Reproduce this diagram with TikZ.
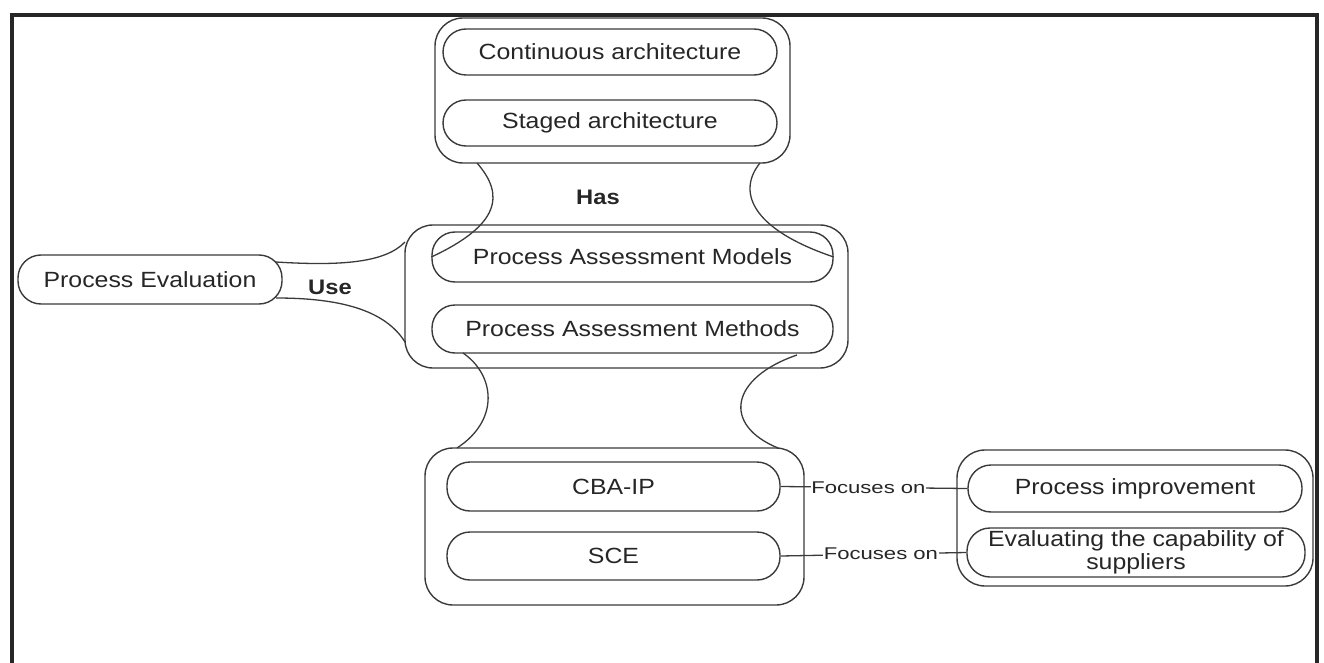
\documentclass[tikz,border=0pt]{standalone}
\usepackage{fontspec}
\setmainfont{Liberation Sans}[FakeStretch=1.13]
\newfontfamily\focfont{Liberation Sans}[FakeStretch=1.3]
\definecolor{ln}{HTML}{3A3A3A}
\definecolor{tx}{HTML}{262626}
\tikzset{
  grp/.style={draw=ln, rectangle, rounded corners=28pt, line width=1.4pt, inner sep=0pt},
  pill/.style={draw=ln, rectangle, rounded corners=23pt, line width=1.4pt, inner sep=0pt,
    text=tx, font=\fontsize{22}{22}\selectfont, align=center},
  rel/.style={text=tx, font=\fontsize{21}{21}\selectfont\bfseries},
  link/.style={draw=ln, line width=1.3pt},
  foc/.style={text=tx, fill=white, inner sep=0.5pt, font=\focfont\fontsize{17}{17}\selectfont},
  frame/.style={draw=black!85, line width=3.5pt}
}
\begin{document}
\begin{tikzpicture}[x=1pt,y=-1pt]
\useasboundingbox (0,0) rectangle (1324,663);
% frame
\draw[frame] (12,663) -- (12,15) -- (1317,15) -- (1317,663);
% groups
\node[grp, minimum width=355pt, minimum height=145pt] (topg) at (612.5,90.5) {};
\node[grp, minimum width=443pt, minimum height=143pt] (midg) at (626.5,296.5) {};
\node[grp, minimum width=379pt, minimum height=157pt] (botg) at (614.5,526.5) {};
\node[grp, minimum width=356pt, minimum height=136pt] (rgtg) at (1135,518) {};
% pills
\node[pill, minimum width=334pt, minimum height=46pt] (cont) at (610,52) {Continuous architecture};
\node[pill, minimum width=334pt, minimum height=46pt] (stag) at (610,123) {Staged architecture};
\node[pill, minimum width=401pt, minimum height=50pt] (pamod) at (632.5,257) {Process Assessment Models};
\node[pill, minimum width=401pt, minimum height=48pt] (pameth) at (632.5,329) {Process Assessment Methods};
\node[pill, minimum width=264pt, minimum height=49pt] (pe) at (150,279.5) {Process Evaluation};
\node[pill, minimum width=333pt, minimum height=49pt] (cba) at (613.5,486.5) {CBA-IP};
\node[pill, minimum width=333pt, minimum height=48pt] (sce) at (613.5,556) {SCE};
\node[pill, minimum width=334pt, minimum height=47pt] (pi) at (1135,488.5) {Process improvement};
\node[pill, minimum width=338pt, minimum height=49pt] (ev) at (1136,552.5) {Evaluating the capability of\\[1.5pt]suppliers};
% relation labels
\node[rel] (has) at (598,197) {Has};
\node[rel] (use) at (330,287) {Use};
% Has curves
\coordinate (h1) at (477,163);
\coordinate (h2) at (760,163);
\draw[link] (h1) .. controls (505,195) and (500,225) .. (pamod.west);
\draw[link] (h2) .. controls (738,190) and (748,228) .. (pamod.east);
% bottom curves
\coordinate (b1) at (463,353);
\coordinate (b2) at (797,355);
\coordinate (b3) at (457,448);
\coordinate (b4) at (778,448);
\draw[link] (b1) .. controls (495,375) and (500,420) .. (b3);
\draw[link] (b2) .. controls (730,378) and (722,425) .. (b4);
% Use curves
\coordinate (u1) at (276,262);
\coordinate (u2) at (276,298);
\coordinate (u3) at (405,242);
\coordinate (u4) at (405,342);
\draw[link] (u1) .. controls (340,266) and (385,263) .. (u3);
\draw[link] (u2) .. controls (340,298) and (385,310) .. (u4);
% focuses on
\draw[link] (cba.east) -- node[foc, pos=0.47] {Focuses on} (pi.west);
\draw[link] (sce.east) -- node[foc, pos=0.54] {Focuses on} (ev.west);
\end{tikzpicture}
\end{document}
